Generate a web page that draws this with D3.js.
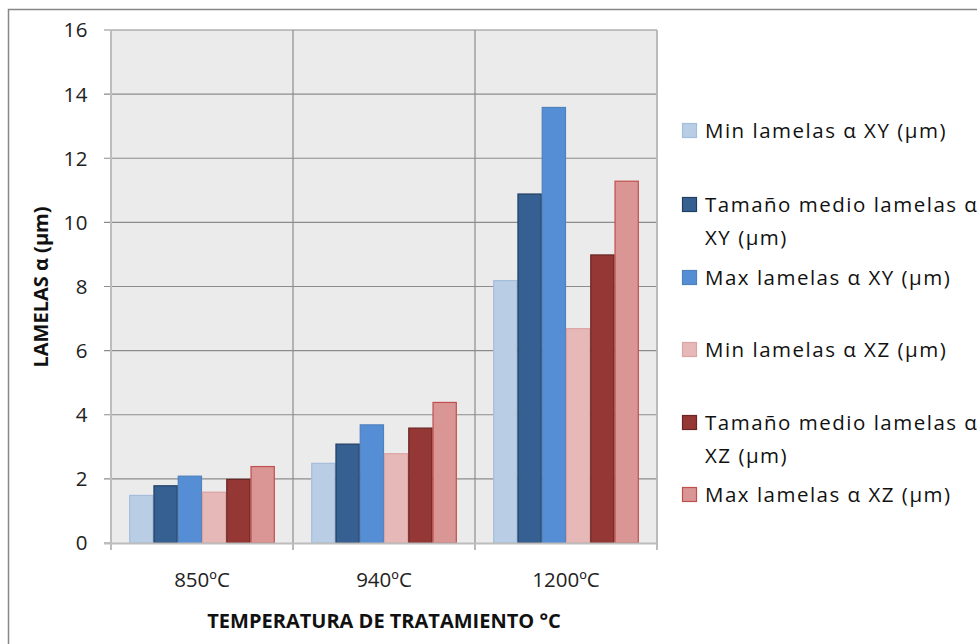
<!DOCTYPE html>
<html><head><meta charset="utf-8">
<script src="https://cdn.jsdelivr.net/npm/d3@7/dist/d3.min.js"></script>
<style>body{margin:0;background:#fff}svg{display:block;font-family:"Open Sans","Noto Sans",sans-serif}</style>
</head><body><svg id="c" width="977" height="644"></svg>
<script>
const categories = ["850ºC","940ºC","1200ºC"];
const seriesNames = ["Min lamelas α XY (μm)","Tamaño medio lamelas α XY (μm)","Max lamelas α XY (μm)","Min lamelas α XZ (μm)","Tamaño medio lamelas α XZ (μm)","Max lamelas α XZ (μm)"];
const minXY   = [1.5, 2.5, 8.2];
const medioXY = [1.8, 3.1, 10.9];
const maxXY   = [2.1, 3.7, 13.6];
const minXZ   = [1.6, 2.8, 6.7];
const medioXZ = [2.0, 3.6, 9.0];
const maxXZ   = [2.4, 4.4, 11.3];
const yTicks = [0,2,4,6,8,10,12,14,16];
const legendLines = [["Min lamelas α XY (μm)"],["Tamaño medio lamelas α","XY (μm)"],["Max lamelas α XY (μm)"],["Min lamelas α XZ (μm)"],["Tamaño medio lamelas α","XZ (μm)"],["Max lamelas α XZ (μm)"]];
const fills   = ["#B9CDE5","#376092","#558ED5","#E6B9B8","#953735","#D99694"];
const strokes = ["#A3BEDD","#203E62","#4F81BD","#DBA3A2","#6A2624","#C0504D"];
const series = [minXY, medioXY, maxXY, minXZ, medioXZ, maxXZ];

const svg = d3.select("#c");
const L=111, R=657, T=30, B=543;
svg.append("path").attr("d","M8.5,644 V9.5 H977").attr("fill","none").attr("stroke","#878787").attr("stroke-width",1.5);
svg.append("rect").attr("x",L).attr("y",T).attr("width",R-L).attr("height",B-T).attr("fill","#EBEBEB");

const x0 = d3.scaleBand().domain(categories).range([L,R]);
const bw = x0.bandwidth()/7.5;
const y = d3.scaleLinear().domain([0,16]).range([B,T]);

svg.append("g").selectAll("line").data(yTicks.filter(d=>d>0)).join("line")
  .attr("x1",L-7).attr("x2",R).attr("y1",d=>y(d)).attr("y2",d=>y(d))
  .attr("stroke","#8C8C8C").attr("stroke-width",1.2);
const bounds = categories.map(c=>x0(c)+x0.bandwidth());
svg.append("g").selectAll("line").data(bounds).join("line")
  .attr("x1",d=>d).attr("x2",d=>d).attr("y1",T).attr("y2",B+7)
  .attr("stroke","#8C8C8C").attr("stroke-width",1.2);
svg.append("line").attr("x1",L-7).attr("x2",L).attr("y1",B).attr("y2",B).attr("stroke","#8C8C8C").attr("stroke-width",1.2);

series.forEach((vals,si)=>{
  svg.append("g").selectAll("rect").data(vals).join("rect")
    .attr("x",(d,i)=>x0(categories[i]) + 0.75*bw + si*bw + 0.5)
    .attr("width",bw-1)
    .attr("y",d=>y(d)+0.5)
    .attr("height",d=>B-y(d)-0.5)
    .attr("fill",fills[si]).attr("stroke",strokes[si]).attr("stroke-width",1.2);
});

svg.append("line").attr("x1",L).attr("x2",L).attr("y1",T).attr("y2",B+7).attr("stroke","#BDBDBD").attr("stroke-width",2);
svg.append("line").attr("x1",L-7).attr("x2",R).attr("y1",B+0.5).attr("y2",B+0.5).attr("stroke","#BDBDBD").attr("stroke-width",2);
svg.append("line").attr("x1",R).attr("x2",R).attr("y1",T).attr("y2",B+7).attr("stroke","#BDBDBD").attr("stroke-width",1.5);

svg.append("g").selectAll("text").data(yTicks).join("text")
  .attr("x",88).attr("y",d=>y(d)).attr("dy","0.36em").attr("text-anchor","end")
  .attr("font-size",20.5).attr("letter-spacing",0.5).attr("fill","#222").text(d=>d);
svg.append("g").selectAll("text").data(categories).join("text")
  .attr("x",d=>x0(d)+x0.bandwidth()/2).attr("y",579.5).attr("dy","0.36em").attr("text-anchor","middle")
  .attr("font-size",20.5).attr("fill","#222").text(d=>d);
svg.append("text").attr("x",384).attr("y",621).attr("dy","0.36em").attr("text-anchor","middle")
  .attr("font-size",20).attr("font-weight","bold").attr("fill","#111").text("TEMPERATURA DE TRATAMIENTO °C");
svg.append("text").attr("transform","translate(41,287) rotate(-90)").attr("dy","0.36em").attr("text-anchor","middle")
  .attr("font-size",20).attr("font-weight","bold").attr("fill","#111").text("LAMELAS α (μm)");

const legY = [131, 205, 278, 350, 423, 495];
const lg = svg.append("g").selectAll("g").data(seriesNames).join("g")
  .attr("transform",(d,i)=>`translate(682,${legY[i]})`);
lg.append("rect").attr("x",0.5).attr("y",-7.5).attr("width",14).attr("height",14)
  .attr("fill",(d,i)=>fills[i]).attr("stroke",(d,i)=>strokes[i]).attr("stroke-width",1.2);
lg.each(function(d,i){
  const g=d3.select(this);
  legendLines[i].forEach((t,j)=>{
    g.append("text").attr("x",23).attr("y",j*33).attr("dy","0.36em")
      .attr("font-size",20.5).attr("letter-spacing",1.5).attr("fill","#111").text(t);
  });
});
</script></body></html>
